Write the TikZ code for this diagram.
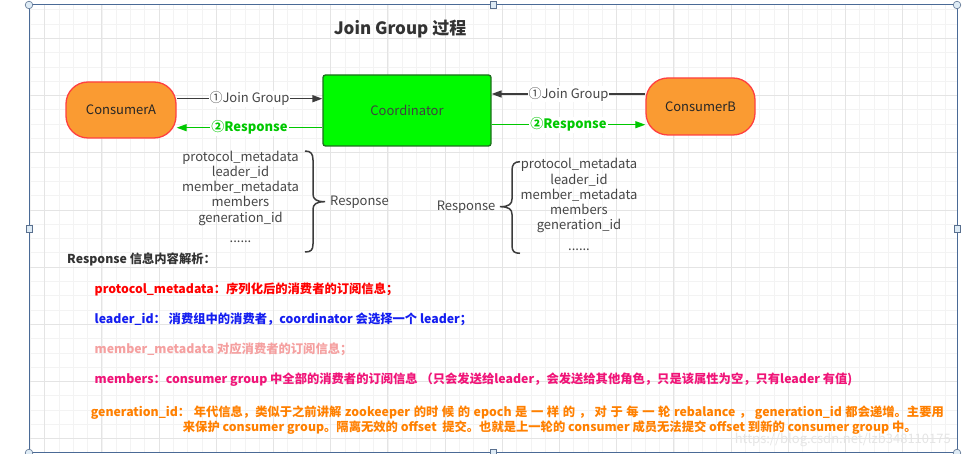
\documentclass[tikz,border=0pt]{standalone}
\usepackage{fontspec}
\setmainfont{Noto Sans CJK SC}
\usetikzlibrary{arrows.meta}
\definecolor{gridminor}{RGB}{243,243,243}
\definecolor{gridmajor}{RGB}{228,228,228}
\definecolor{framec}{RGB}{74,106,150}
\definecolor{handlefill}{RGB}{222,235,245}
\definecolor{orangefill}{RGB}{250,155,50}
\definecolor{redborder}{RGB}{255,64,64}
\definecolor{greenfill}{RGB}{0,250,0}
\definecolor{greenborder}{RGB}{30,110,30}
\definecolor{arrgray}{RGB}{60,60,60}
\definecolor{arrgreen}{RGB}{0,200,0}
\definecolor{txtgray}{RGB}{70,70,70}
\definecolor{cred}{RGB}{255,0,0}
\definecolor{cblue}{RGB}{20,30,240}
\definecolor{cpink}{RGB}{245,160,160}
\definecolor{cmag}{RGB}{240,20,120}
\definecolor{corange}{RGB}{255,128,0}
\tikzset{
  consumer/.style={draw=redborder, line width=1.3pt, fill=orangefill, rounded corners=22pt,
    minimum width=110pt, minimum height=56pt, inner sep=0pt, text=black!85,
    font=\fontsize{13}{15}\selectfont},
  coordbox/.style={draw=greenborder, line width=1.3pt, fill=greenfill, rounded corners=2.5pt,
    minimum width=168pt, minimum height=71pt, inner sep=0pt, text=black!75,
    font=\fontsize{13}{15}\selectfont},
  joinarr/.style={draw=arrgray, line width=1.5pt, -{Triangle[length=10pt,width=7pt]}},
  resparr/.style={draw=arrgreen, line width=1.2pt, -{Triangle[length=10pt,width=7pt]}},
  joinlbl/.style={fill=white, inner sep=1pt, text=txtgray, font=\fontsize{13}{15}\selectfont},
  resplbl/.style={fill=white, inner sep=1pt, text=arrgreen, font=\bfseries\fontsize{13}{15}\selectfont},
  listtxt/.style={anchor=base, inner sep=0pt, text=txtgray, font=\fontsize{13}{15}\selectfont},
  bracec/.style={draw=arrgray, line width=1.5pt},
  itemtxt/.style={anchor=base west, inner sep=0pt, font=\bfseries\fontsize{12.3}{15}\selectfont},
  handlec/.style={draw=framec!70!gray, fill=handlefill, line width=0.6pt},
}
\begin{document}
\begin{tikzpicture}[x=1pt,y=-1pt]
\useasboundingbox (0,0) rectangle (962,454);
\fill[white] (0,0) rectangle (962,454);
% grid
\begin{scope}
\clip (29,5) rectangle (957,453);
\foreach \i in {-1,...,65} {
  \pgfmathsetmacro{\xx}{44.7+14.3*\i}
  \draw[gridminor, line width=0.8pt] (\xx,5) -- (\xx,453);
}
\foreach \i in {-3,...,30} {
  \pgfmathsetmacro{\yy}{38.4+14.3*\i}
  \draw[gridminor, line width=0.8pt] (29,\yy) -- (957,\yy);
}
\foreach \i in {0,...,16} {
  \pgfmathsetmacro{\xx}{44.7+57.2*\i}
  \draw[gridmajor, line width=0.9pt] (\xx,5) -- (\xx,453);
}
\foreach \i in {0,...,7} {
  \pgfmathsetmacro{\yy}{38.4+57.2*\i}
  \draw[gridmajor, line width=0.9pt] (29,\yy) -- (957,\yy);
}
\end{scope}
% frame
\draw[framec, line width=1pt] (29,5) rectangle (957,453);
% title
\node[anchor=base, inner sep=0pt, text=black!80, font=\bfseries\fontsize{17}{20}\selectfont] (title) at (400,35) {Join Group 过程};
% boxes
\node[consumer] (A) at (121,110) {ConsumerA};
\node[coordbox] (C) at (407,110.5) {Coordinator};
\node[consumer, minimum width=109pt, minimum height=57pt] (B) at (700.5,106.5) {ConsumerB};
% arrows
\draw[joinarr] (A.east |- 0,98.7) -- node[joinlbl] {①Join Group} (C.west |- 0,98.7);
\draw[resparr] (C.west |- 0,127.7) -- node[resplbl] {②Response} (A.east |- 0,127.7);
\draw[joinarr] (B.west |- 0,94) -- node[joinlbl] {①Join Group} (C.east |- 0,94);
\draw[resparr] (C.east |- 0,124.7) -- node[resplbl] {②Response} (B.west |- 0,124.7);
% left list
\node[listtxt] (l1) at (240.5,161.5) {protocol\_metadata};
\node[listtxt] (l2) at (240.5,176.8) {leader\_id};
\node[listtxt] (l3) at (240.5,191.8) {member\_metadata};
\node[listtxt] (l4) at (240.5,206.8) {members};
\node[listtxt] (l5) at (240.5,222.3) {generation\_id};
\node[listtxt] (l6) at (240.5,243) {......};
\draw[bracec] (305,151) .. controls (311,151) and (313,154) .. (313,160) -- (313,194)
  .. controls (313,199) and (316,201.7) .. (325,201.7)
  .. controls (316,201.7) and (313,204.4) .. (313,209.4) -- (313,244)
  .. controls (313,250) and (311,252) .. (305,252);
\node[anchor=base west, inner sep=0pt, text=txtgray, font=\fontsize{13}{15}\selectfont] (lr) at (330,205.7) {Response};
% right list
\node[listtxt] (r1) at (579,169) {protocol\_metadata};
\node[listtxt] (r2) at (579,184.3) {leader\_id};
\node[listtxt] (r3) at (579,199.5) {member\_metadata};
\node[listtxt] (r4) at (579,214.8) {members};
\node[listtxt] (r5) at (579,230) {generation\_id};
\node[listtxt] (r6) at (579,250.5) {......};
\draw[bracec] (520,161.7) .. controls (514,161.7) and (512,164.7) .. (512,170.7) -- (512,199)
  .. controls (512,204) and (509,206.7) .. (500,206.7)
  .. controls (509,206.7) and (512,209.4) .. (512,214.4) -- (512,245.3)
  .. controls (512,251.3) and (514,253.3) .. (520,253.3);
\node[anchor=base east, inner sep=0pt, text=txtgray, font=\fontsize{13}{15}\selectfont] (rr) at (495.5,210.7) {Response};
% explanation
\node[itemtxt, text=black!80] (head) at (67,264) {Response 信息内容解析：};
\node[itemtxt, text=cred] (i1) at (94.5,293.3) {protocol\_metadata：序列化后的消费者的订阅信息；};
\node[itemtxt, text=cblue] (i2) at (94.5,323.3) {leader\_id：\ 消费组中的消费者，coordinator 会选择一个 leader；};
\node[itemtxt, text=cpink] (i3) at (94.5,353.3) {member\_metadata 对应消费者的订阅信息；};
\node[itemtxt, text=cmag] (i4) at (94.5,383.3) {members：consumer group 中全部的消费者的订阅信息 （只会发送给leader，会发送给其他角色，只是该属性为空，只有leader 有值)};
\node[itemtxt, text=corange] (i5) at (90.7,416.7) {\makebox[853pt][s]{generation\_id： 年代信息，类似于之前讲解 zookeeper 的时 候 的 epoch 是 一 样 的 ， 对 于 每 一 轮 rebalance ， generation\_id 都会递增。主要用}};
\node[itemtxt, text=corange] (i6) at (182.7,431.7) {来保护 consumer group。隔离无效的 offset\ \ 提交。也就是上一轮的 consumer 成员无法提交 offset 到新的 consumer group 中。};
% watermark
\node[anchor=base east, inner sep=0pt, text=black!10, font=\fontsize{13}{15}\selectfont] (wm) at (951,443) {https://blog.csdn.net/lzb348110175};
% handles
\foreach \p in {(29,5),(957,5),(29,453),(957,453)} \draw[handlec] \p circle (3.8pt);
\foreach \p in {(493,5),(29,229),(957,229),(493,453)} \draw[handlec] \p ++(-3.2,-3.2) rectangle ++(6.4,6.4);
\end{tikzpicture}
\end{document}
